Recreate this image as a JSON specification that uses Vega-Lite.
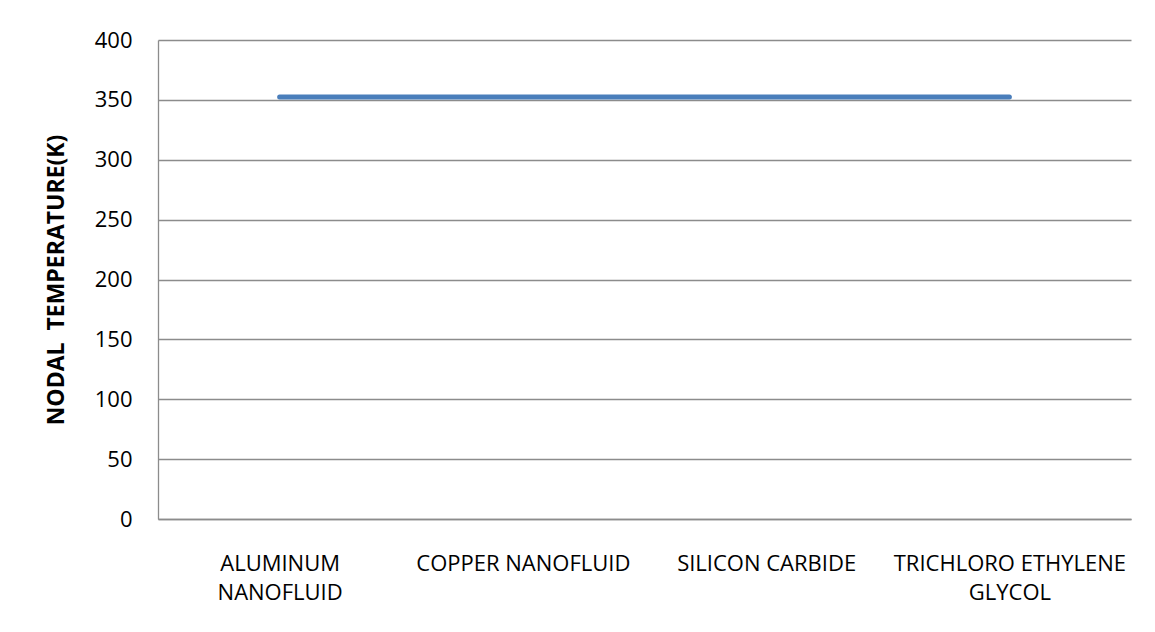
{
  "$schema": "https://vega.github.io/schema/vega-lite/v6.json",
  "width": 973,
  "height": 479,
  "autosize": {"type": "none"},
  "padding": {"left": 158, "top": 40, "right": 24, "bottom": 113},
  "background": "white",
  "config": {"view": {"stroke": null}, "font": "Open Sans"},
  "data": {
    "values": [
      {"material": "ALUMINUM NANOFLUID", "temp": 352.5},
      {"material": "COPPER NANOFLUID", "temp": 352.5},
      {"material": "SILICON CARBIDE", "temp": 352.5},
      {"material": "TRICHLORO ETHYLENE GLYCOL", "temp": 352.5}
    ]
  },
  "mark": {"type": "line", "color": "#4a7ebb", "strokeWidth": 5, "strokeCap": "round"},
  "encoding": {
    "x": {
      "field": "material",
      "type": "nominal",
      "sort": null,
      "scale": {"paddingInner": 0, "paddingOuter": 0},
      "axis": {
        "title": null,
        "labelAngle": 0,
        "labelFont": "Open Sans",
        "labelFontSize": 22,
        "labelColor": "#000000",
        "labelPadding": 34,
        "labelLineHeight": 29,
        "labelLimit": 0,
        "ticks": false,
        "domainColor": "#8c8c8c",
        "domainWidth": 1.3,
        "grid": false,
        "labelExpr": "datum.value == 'ALUMINUM NANOFLUID' ? ['ALUMINUM', 'NANOFLUID'] : datum.value == 'TRICHLORO ETHYLENE GLYCOL' ? ['TRICHLORO ETHYLENE', 'GLYCOL'] : datum.value"
      }
    },
    "y": {
      "field": "temp",
      "type": "quantitative",
      "scale": {"domain": [0, 400], "nice": false},
      "axis": {
        "title": "NODAL\u00a0 TEMPERATURE(K)",
        "titleFont": "Open Sans",
        "titleFontSize": 23,
        "titleFontWeight": "bold",
        "titleColor": "#000000",
        "titlePadding": 26,
        "values": [0, 50, 100, 150, 200, 250, 300, 350, 400],
        "labelFont": "Open Sans",
        "labelFontSize": 22,
        "labelColor": "#000000",
        "labelPadding": 26,
        "ticks": false,
        "domainColor": "#8c8c8c",
        "domainWidth": 1.3,
        "gridColor": "#8c8c8c",
        "gridWidth": 1.3
      }
    }
  }
}
